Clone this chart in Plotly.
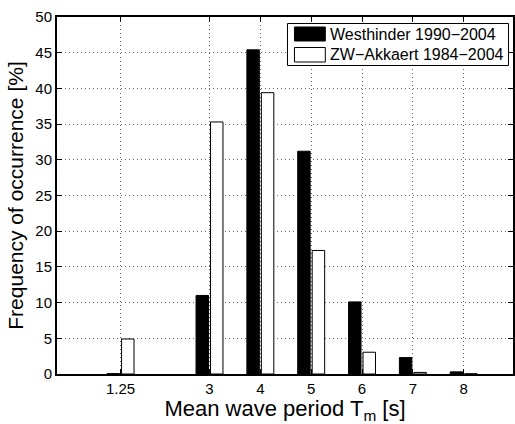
import plotly.graph_objects as go

periods = [1.25, 3, 4, 5, 6, 7, 8]
tick_labels = ["1.25", "3", "4", "5", "6", "7", "8"]
westhinder = [0.05, 11.0, 45.4, 31.2, 10.1, 2.3, 0.3]
zw_akkaert = [4.9, 35.3, 39.4, 17.3, 3.05, 0.22, 0.03]
names = ["Westhinder 1990\u22122004", "ZW\u2212Akkaert 1984\u22122004"]
colors = ["black", "white"]

W, H = 515, 424
L, R, T, B = 57, 0, 17, 50
pw, ph = W - L - R, H - T - B

fig = go.Figure()
fig.add_trace(go.Bar(x=periods, y=westhinder, name=names[0], width=0.245, offset=-0.265,
                     marker=dict(color=colors[0], line=dict(color="black", width=1))))
fig.add_trace(go.Bar(x=periods, y=zw_akkaert, name=names[1], width=0.245, offset=0.02,
                     marker=dict(color=colors[1], line=dict(color="black", width=1))))

font = "Liberation Sans, Arial, Helvetica, sans-serif"

def px(x):
    return (x - L) / pw

def py(y):
    return (H - B - y) / ph

shapes = [
    dict(type="rect", xref="paper", yref="paper", x0=px(288.5), x1=px(510.5), y0=py(65.5), y1=py(23.5),
         line=dict(color="black", width=1), fillcolor="white", layer="above"),
    dict(type="rect", xref="paper", yref="paper", x0=px(295.5), x1=px(326.5), y0=py(41), y1=py(27),
         line=dict(color="black", width=1), fillcolor=colors[0], layer="above"),
    dict(type="rect", xref="paper", yref="paper", x0=px(295.5), x1=px(326.5), y0=py(62), y1=py(47.5),
         line=dict(color="black", width=1), fillcolor=colors[1], layer="above"),
]
annotations = [
    dict(xref="paper", yref="paper", x=px(329), y=py(34), text=names[0], showarrow=False,
         xanchor="left", yanchor="middle", font=dict(family=font, size=16, color="black")),
    dict(xref="paper", yref="paper", x=px(329), y=py(54.5), text=names[1], showarrow=False,
         xanchor="left", yanchor="middle", font=dict(family=font, size=16, color="black")),
]

fig.update_layout(
    width=W, height=H,
    margin=dict(l=L, r=R, t=T, b=B),
    paper_bgcolor="white", plot_bgcolor="white",
    barmode="overlay", showlegend=False,
    font=dict(family=font, color="black"),
    shapes=shapes, annotations=annotations,
    xaxis=dict(range=[0, 8.97], tickmode="array", tickvals=periods, ticktext=tick_labels,
               showgrid=True, gridcolor="#666", griddash="1px,3px", gridwidth=1,
               showline=True, linecolor="black", linewidth=2, mirror="ticks",
               ticks="inside", ticklen=5, tickcolor="black", zeroline=False,
               tickfont=dict(size=15),
               title=dict(text="Mean wave period T<sub>m</sub> [s]", font=dict(size=22), standoff=1)),
    yaxis=dict(range=[0, 50], tickvals=[0, 5, 10, 15, 20, 25, 30, 35, 40, 45, 50],
               showgrid=True, gridcolor="#666", griddash="1px,3px", gridwidth=1,
               showline=True, linecolor="black", linewidth=2, mirror="ticks",
               ticks="inside", ticklen=5, tickcolor="black", zeroline=False,
               tickfont=dict(size=15),
               title=dict(text="Frequency of occurrence [%]", font=dict(size=21), standoff=6)),
)

fig.write_html("out.html")
